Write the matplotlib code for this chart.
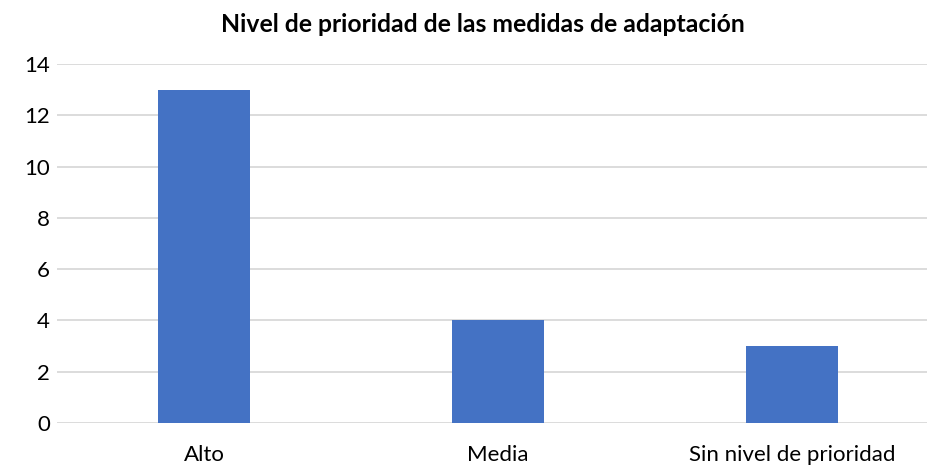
import matplotlib
matplotlib.use("Agg")
import matplotlib.pyplot as plt

categories = ["Alto", "Media", "Sin nivel de prioridad"]
values = [13, 4, 3]
yticks = [0, 2, 4, 6, 8, 10, 12, 14]

plt.rcParams["font.family"] = ["Lato", "DejaVu Sans"]

fig = plt.figure(figsize=(9.27, 4.65), dpi=100)
ax = fig.add_axes([57 / 927, 1 - 423 / 465, 882 / 927, (423 - 64) / 465])

x = range(len(categories))
ax.bar(x, values, width=0.313, color="#4472C4", zorder=3)

ax.set_xlim(-0.5, 2.5)
ax.set_ylim(0, 14)
ax.set_yticks(yticks)
ax.set_xticks(list(x))
ax.set_xticklabels(categories)
ax.tick_params(axis="both", length=0, labelsize=16, colors="#000000")
ax.tick_params(axis="x", pad=16)
ax.tick_params(axis="y", pad=5)
ax.grid(axis="y", color="#D9D9D9", linewidth=1.3, zorder=0)
for s in ax.spines.values():
    s.set_visible(False)

fig.text(483 / 927, 1 - 25 / 465, "Nivel de prioridad de las medidas de adaptación",
         ha="center", va="center", fontsize=17.8, fontweight="bold")

fig.savefig("out.png", dpi=100)
